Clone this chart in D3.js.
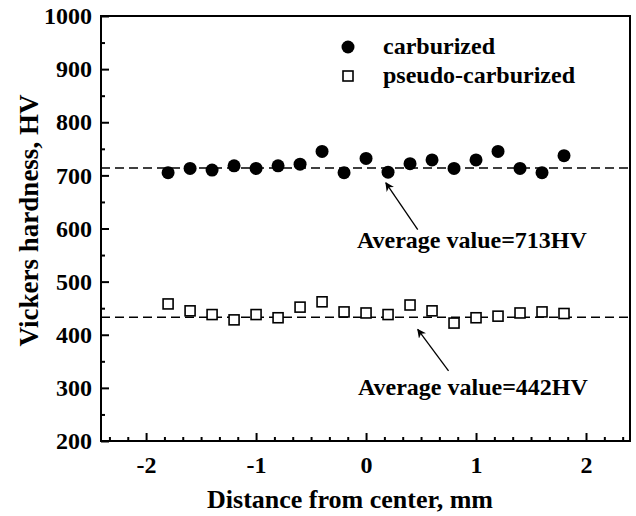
<!DOCTYPE html>
<html>
<head>
<meta charset="utf-8">
<script src="https://cdn.jsdelivr.net/npm/d3@7"></script>
<style>
  body { margin: 0; background: #fff; }
  text { font-family: "Liberation Serif", "Times New Roman", serif; font-weight: bold; }
</style>
</head>
<body>
<script>
// Measurement positions (mm from center)
const distance = [-1.8, -1.6, -1.4, -1.2, -1.0, -0.8, -0.6, -0.4, -0.2, 0, 0.2, 0.4, 0.6, 0.8, 1.0, 1.2, 1.4, 1.6, 1.8];

// Hardness, HV
const carburized = [705, 713, 710, 718, 713, 718, 721, 745, 705, 732, 706, 722, 729, 713, 729, 745, 713, 705, 737];
const pseudoCarburized = [458, 445, 438, 428, 438, 432, 452, 462, 443, 441, 438, 456, 445, 422, 432, 435, 441, 443, 440];

// dashed average lines as drawn
const averageLines = [714, 433];
const averageLabels = ['Average value=713HV', 'Average value=442HV'];

const xTicks = [-2, -1, 0, 1, 2];
const yTicks = [200, 300, 400, 500, 600, 700, 800, 900, 1000];

const w = 636;
const h = 516;
const margin = { top: 16, right: 6, bottom: 75, left: 101 };

const x = d3.scaleLinear().domain([-2.41, 2.4]).range([margin.left, w - margin.right]);
const y = d3.scaleLinear().domain([200, 1000]).range([h - margin.bottom, margin.top]);

const svg = d3.select('body').append('svg').attr('width', w).attr('height', h);

svg.append('defs').append('marker')
  .attr('id', 'arrow')
  .attr('viewBox', '0 0 10 10')
  .attr('refX', 9).attr('refY', 5)
  .attr('markerWidth', 9).attr('markerHeight', 9)
  .attr('markerUnits', 'userSpaceOnUse')
  .attr('orient', 'auto')
  .append('path').attr('d', 'M0,0 L10,5 L0,10 L3,5 Z').attr('fill', '#000');

// minor ticks
const xMinor = d3.range(-14, 15).filter(k => k % 6 !== 0).map(k => k / 6);
const yMinor = d3.range(250, 1000, 100);

svg.append('g')
  .attr('transform', `translate(0,${y(200)})`)
  .call(d3.axisBottom(x).tickValues(xMinor).tickSize(-4).tickFormat(''))
  .call(g => g.select('.domain').remove());

svg.append('g')
  .attr('transform', `translate(${x.range()[0]},0)`)
  .call(d3.axisLeft(y).tickValues(yMinor).tickSize(-4).tickFormat(''))
  .call(g => g.select('.domain').remove());

const xAxis = svg.append('g')
  .attr('transform', `translate(0,${y(200)})`)
  .call(d3.axisBottom(x).tickValues(xTicks).tickSize(-8).tickPadding(15).tickFormat(d => String(d)))
  .call(g => g.select('.domain').remove());

const yAxis = svg.append('g')
  .attr('transform', `translate(${x.range()[0]},0)`)
  .call(d3.axisLeft(y).tickValues(yTicks).tickSize(-8).tickPadding(9).tickFormat(d => String(d)))
  .call(g => g.select('.domain').remove());

svg.selectAll('.tick line').attr('stroke', '#000').attr('stroke-width', 2);
svg.selectAll('.tick text').attr('font-size', 24).attr('fill', '#000')
  .style('font-family', '"Liberation Serif", serif').style('font-weight', 'bold');
xAxis.selectAll('.tick text').attr('dy', '0.71em');

// frame
svg.append('rect')
  .attr('x', x.range()[0]).attr('y', y(1000))
  .attr('width', x.range()[1] - x.range()[0])
  .attr('height', y(200) - y(1000))
  .attr('fill', 'none').attr('stroke', '#000').attr('stroke-width', 2);

// average lines
svg.selectAll('.avg')
  .data(averageLines)
  .enter().append('line')
  .attr('x1', x.range()[0]).attr('x2', x.range()[1])
  .attr('y1', d => y(d)).attr('y2', d => y(d))
  .attr('stroke', '#000').attr('stroke-width', 1.5)
  .attr('stroke-dasharray', '9,5');

// carburized
svg.selectAll('.carb')
  .data(distance)
  .enter().append('circle')
  .attr('cx', d => x(d))
  .attr('cy', (d, i) => y(carburized[i]))
  .attr('r', 6.5)
  .attr('fill', '#000');

// pseudo-carburized
const s = 10;
svg.selectAll('.pseudo')
  .data(distance)
  .enter().append('rect')
  .attr('x', d => x(d) - s / 2)
  .attr('y', (d, i) => y(pseudoCarburized[i]) - s / 2)
  .attr('width', s).attr('height', s)
  .attr('fill', '#fff').attr('stroke', '#000').attr('stroke-width', 1.6);

// annotations
const notes = [
  { tip: [0.18, 686], tail: [0.47, 598], tx: 357, ty: 248, label: averageLabels[0] },
  { tip: [0.47, 410], tail: [0.75, 332], tx: 358, ty: 395, label: averageLabels[1] }
];
notes.forEach(n => {
  svg.append('line')
    .attr('x1', x(n.tail[0])).attr('y1', y(n.tail[1]))
    .attr('x2', x(n.tip[0])).attr('y2', y(n.tip[1]))
    .attr('stroke', '#000').attr('stroke-width', 1.3)
    .attr('marker-end', 'url(#arrow)');
  svg.append('text')
    .attr('x', n.tx).attr('y', n.ty)
    .attr('font-size', 24)
    .text(n.label);
});

// legend
const legend = svg.append('g');
legend.append('circle').attr('cx', 348).attr('cy', 47).attr('r', 6.5).attr('fill', '#000');
legend.append('rect').attr('x', 343).attr('y', 71).attr('width', 10).attr('height', 10)
  .attr('fill', '#fff').attr('stroke', '#000').attr('stroke-width', 1.6);
legend.append('text').attr('x', 383).attr('y', 54).attr('font-size', 24).text('carburized');
legend.append('text').attr('x', 383).attr('y', 83).attr('font-size', 24).text('pseudo-carburized');

// axis titles
svg.append('text')
  .attr('x', 350).attr('y', 508)
  .attr('text-anchor', 'middle').attr('font-size', 26)
  .text('Distance from center, mm');

svg.append('text')
  .attr('transform', `translate(38,${(y(200) + y(1000)) / 2 - 8}) rotate(-90)`)
  .attr('text-anchor', 'middle').attr('font-size', 27)
  .text('Vickers hardness, HV');
</script>
</body>
</html>
